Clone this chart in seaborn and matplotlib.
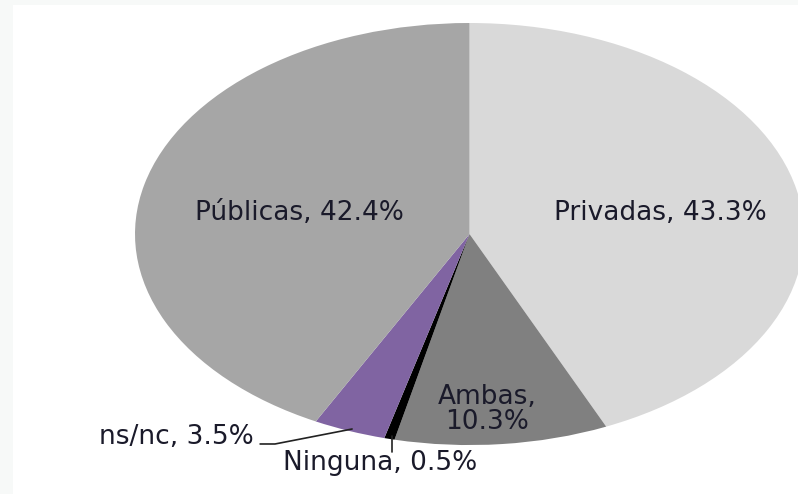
import matplotlib
matplotlib.use("Agg")
import matplotlib.pyplot as plt
from matplotlib.patches import Rectangle
import seaborn as sns

# Datos del grafico (orden horario desde arriba)
categorias = ["Privadas", "Ambas", "Ninguna", "ns/nc", "Públicas"]
porcentajes = [43.3, 10.3, 0.5, 3.5, 42.4]

sns.set_theme(style="white")
plt.rcParams['font.family'] = ['DejaVu Sans']

colores = ["#d9d9d9", "#808080", "#000000", "#8064a2", "#a6a6a6"]
paleta = sns.color_palette(colores)

fig = plt.figure(figsize=(7.98, 4.94), dpi=100, facecolor="#f7f9f8")
# marco blanco del grafico (borde claro arriba y a la izquierda)
fig.patches.append(Rectangle((13 / 798, 0), 1, 1 - 5 / 494, transform=fig.transFigure,
                             facecolor="white", edgecolor="none", zorder=-1))

ax = fig.add_axes([0, 0, 1, 1])
ax.pie(porcentajes, colors=paleta, startangle=90, counterclock=False, radius=1,
       wedgeprops=dict(linewidth=0))
# el original esta estirado en horizontal: elipse
ax.set_aspect('auto')
ax.set_xlim(-1.4036, 0.982)
ax.set_ylim(-1.232, 1.109)
ax.axis('off')

etiquetas = [f"{c}, {p:.1f}%" for c, p in zip(categorias, porcentajes)]
color_txt = "#1a1a2a"
fs = 19

# posiciones de las etiquetas (coordenadas de datos)
ax.text(0.570, 0.10, etiquetas[0], ha='center', va='center', fontsize=fs, color=color_txt)
ax.text(-0.507, 0.10, etiquetas[4], ha='center', va='center', fontsize=fs, color=color_txt)
ax.text(0.052, -0.83, etiquetas[1].replace(", ", ",\n"), ha='center', va='center',
        fontsize=fs, color=color_txt, linespacing=0.95)
ax.text(-0.645, -0.962, etiquetas[3], ha='right', va='center', fontsize=fs, color=color_txt)
ax.text(-0.268, -1.085, etiquetas[2], ha='center', va='center', fontsize=fs, color=color_txt)

# lineas guia
ax.plot([-0.626, -0.5815, -0.351], [-0.995, -0.995, -0.924], color="#222222", lw=1.2, clip_on=False)
ax.plot([-0.232, -0.232], [-0.957, -1.033], color="#222222", lw=1.2, clip_on=False)

fig.savefig("out.png", dpi=100, facecolor=fig.get_facecolor())
